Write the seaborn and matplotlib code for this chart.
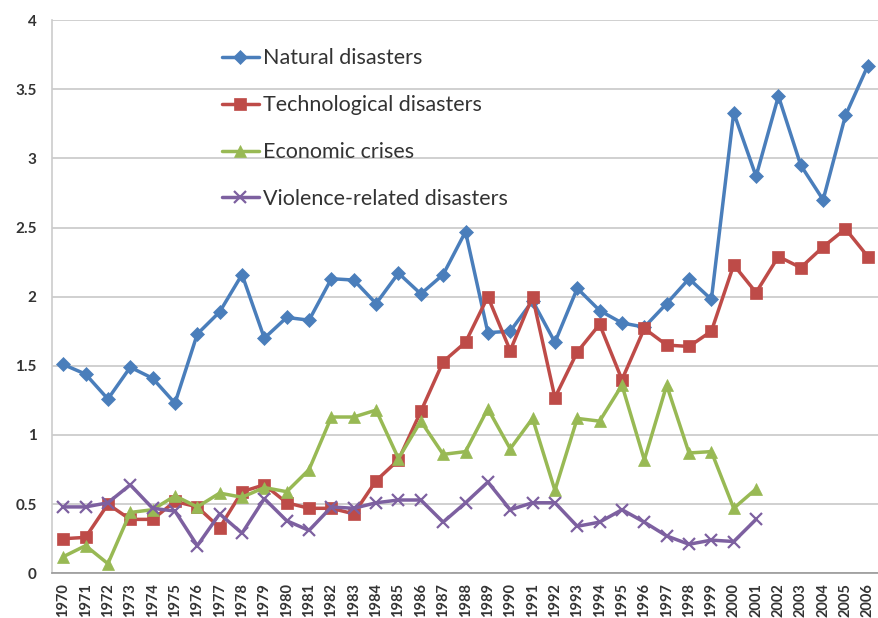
import matplotlib
matplotlib.use("Agg")
import matplotlib.pyplot as plt
import numpy as np
import pandas as pd
import seaborn as sns

years = list(range(1970, 2007))

natural = [1.51, 1.44, 1.26, 1.49, 1.41, 1.23, 1.73, 1.89, 2.16, 1.70, 1.85, 1.83,
           2.13, 2.12, 1.95, 2.17, 2.02, 2.16, 2.47, 1.74, 1.75, 1.97, 1.67, 2.06,
           1.90, 1.81, 1.78, 1.95, 2.13, 1.98, 3.33, 2.87, 3.45, 2.95, 2.70, 3.31, 3.67]
technological = [0.25, 0.26, 0.50, 0.39, 0.39, 0.52, 0.48, 0.33, 0.59, 0.64, 0.51, 0.47,
                 0.47, 0.43, 0.67, 0.82, 1.17, 1.53, 1.67, 2.00, 1.61, 2.00, 1.27, 1.60,
                 1.80, 1.40, 1.77, 1.65, 1.64, 1.75, 2.23, 2.03, 2.29, 2.21, 2.36, 2.49, 2.29]
economic = [0.12, 0.20, 0.07, 0.44, 0.46, 0.56, 0.48, 0.58, 0.55, 0.62, 0.59, 0.75,
            1.13, 1.13, 1.18, 0.83, 1.10, 0.86, 0.88, 1.19, 0.90, 1.12, 0.60, 1.12,
            1.10, 1.36, 0.82, 1.36, 0.87, 0.88, 0.47, 0.61]
violence = [0.48, 0.48, 0.51, 0.64, 0.47, 0.45, 0.20, 0.43, 0.29, 0.54, 0.38, 0.31,
            0.48, 0.47, 0.51, 0.53, 0.53, 0.37, 0.51, 0.66, 0.46, 0.51, 0.51, 0.34,
            0.37, 0.46, 0.37, 0.27, 0.21, 0.24, 0.23, 0.39]

series = ["Natural disasters", "Technological disasters", "Economic crises",
          "Violence-related disasters"]
colors = ["#4A7EBB", "#BE4B48", "#98B954", "#7D60A0"]
markers = ["D", "s", "^", "x"]
msizes = [7, 8.5, 9, 9]

rows = []
for name, vals in zip(series, [natural, technological, economic, violence]):
    for yr, v in zip(years, vals):
        rows.append({"year": yr, "value": v, "series": name})
df = pd.DataFrame(rows)

sns.set_style("white")
plt.rcParams["font.family"] = ["Lato", "DejaVu Sans"]

fig = plt.figure(figsize=(8.79, 6.18), dpi=100)
ax = fig.add_axes([0.0592, 0.0723, 0.9408, 0.8953])

for name, c, m, ms in zip(series, colors, markers, msizes):
    sub = df[df["series"] == name]
    sns.lineplot(data=sub, x="year", y="value", ax=ax, color=c, linewidth=2.5,
                 marker=m, markersize=ms, markeredgecolor=c,
                 markeredgewidth=1.6 if m == "x" else 0.5, label=name)

ax.set_xlim(1969.5, 2006.13)
ax.set_ylim(0, 4)
ax.set_yticks(np.arange(0, 4.01, 0.5))
ax.set_yticklabels(["0", "0.5", "1", "1.5", "2", "2.5", "3", "3.5", "4"],
                   fontsize=11, color="#333333", fontweight="bold")
ax.set_xticks(years)
ax.set_xticklabels([str(y) for y in years], rotation=90, fontsize=10.5,
                   color="#333333", fontweight="bold")
ax.set_xticks(np.arange(1969.5, 2007, 1), minor=True)
ax.tick_params(axis="x", which="major", length=0, pad=7)
ax.tick_params(axis="x", which="minor", length=6, width=1, color="#999999", direction="out")
ax.tick_params(axis="y", length=7, width=1, color="#bbbbbb", direction="out", pad=4)
ax.grid(axis="y", color="#c8c8c8", linewidth=1.2)
ax.set_axisbelow(True)
ax.set_xlabel("")
ax.set_ylabel("")
for s in ["top", "right"]:
    ax.spines[s].set_visible(False)
ax.spines["left"].set_color("#cccccc")
ax.spines["bottom"].set_color("#999999")
ax.spines["left"].set_linewidth(1.2)
ax.spines["bottom"].set_linewidth(1.2)

handles, labels = ax.get_legend_handles_labels()
ax.legend(handles, labels, loc="upper left", bbox_to_anchor=(0.182, 0.984),
          frameon=False, fontsize=15.5, labelspacing=1.25, handlelength=1.7,
          handletextpad=0.2, labelcolor="#333333")

fig.savefig("out.png", dpi=100, facecolor="white")
